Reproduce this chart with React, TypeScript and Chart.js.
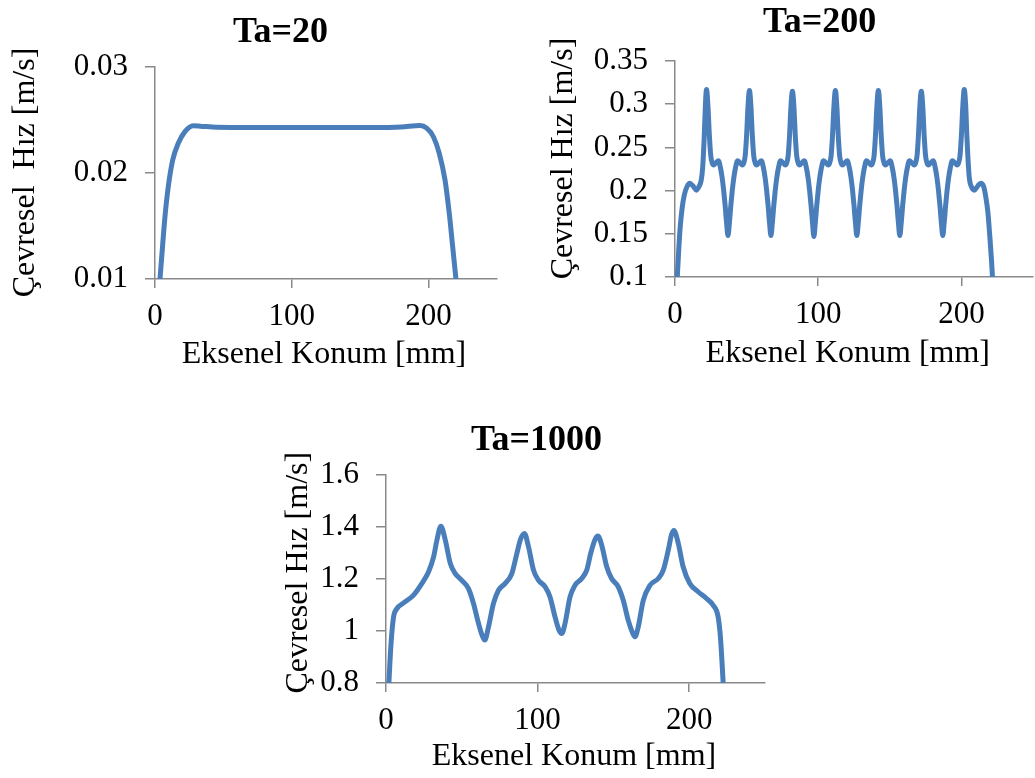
import { useEffect, useRef } from 'react';
import { Chart, registerables } from 'chart.js';

Chart.register(...registerables);

const FONT = '"Liberation Serif", "Times New Roman", Times, serif';
const LINE_COLOR = '#4a7ebb';
const AXIS_COLOR = '#898989';

// ---------- data ----------
const X_TICKS = [0, 100, 200];
const X_MIN = 0;
const X_MAX = 250;

const TA20_TITLE = 'Ta=20';
const TA20_Y_TICKS = [0.01, 0.02, 0.03];
const TA20_X = [3.4, 5.1, 7.3, 9.7, 12.9, 17, 21.9, 28, 33, 45, 70, 100, 130, 160, 180, 193.7, 198.6, 203.5, 207.8, 212, 215.1, 217.6, 220.3];
const TA20_Y = [0.0096, 0.0124, 0.0159, 0.0187, 0.0212, 0.0228, 0.0239, 0.02445, 0.02442, 0.02432, 0.0243, 0.0243, 0.0243, 0.0243, 0.02435, 0.02448, 0.02423, 0.02342, 0.02186, 0.01934, 0.0162, 0.01305, 0.0096];

const TA200_TITLE = 'Ta=200';
const TA200_Y_TICKS = [0.1, 0.15, 0.2, 0.25, 0.3, 0.35];
const TA200_X = [
  1.5, 2.5, 3.5, 5, 6.5, 8.5, 10.4, 12.5, 15, 17, 18.3, 19.3, 20.4, 21.2,
  22, 23, 24, 25, 26, 27, 28.5, 30.3, 31.8, 33, 34, 35, 36, 37, 38, 39, 40, 41, 42.2, 43.7, 45.5, 47, 48, 49, 50, 51,
  52, 53, 54, 55, 56, 57, 58.5, 60.3, 61.8, 63, 64, 65, 66, 67, 68, 69, 70, 71, 72.2, 73.7, 75.5, 77, 78, 79, 80, 81,
  82, 83, 84, 85, 86, 87, 88.5, 90.3, 91.8, 93, 94, 95, 96, 97, 98, 99, 100, 101, 102.2, 103.7, 105.5, 107, 108, 109, 110, 111,
  112, 113, 114, 115, 116, 117, 118.5, 120.3, 121.8, 123, 124, 125, 126, 127, 128, 129, 130, 131, 132.2, 133.7, 135.5, 137, 138, 139, 140, 141,
  142, 143, 144, 145, 146, 147, 148.5, 150.3, 151.8, 153, 154, 155, 156, 157, 158, 159, 160, 161, 162.2, 163.7, 165.5, 167, 168, 169, 170, 171,
  172, 173, 174, 175, 176, 177, 178.5, 180.3, 181.8, 183, 184, 185, 186, 187, 188, 189, 190, 191, 192.2, 193.7, 195.5, 197, 198, 199, 200, 201,
  202, 203, 203.8, 204.5, 205.5, 207, 209, 211.5, 213.5, 215.5, 217, 218.5, 219.8, 221, 221.8,
];
const TA200_Y = [
  0.097, 0.128, 0.155, 0.18, 0.195, 0.205, 0.2085, 0.2055, 0.2005, 0.2055, 0.212, 0.226, 0.2615, 0.298,
  0.317, 0.298, 0.264, 0.24, 0.232, 0.2296, 0.232, 0.2346, 0.226, 0.214, 0.2, 0.183, 0.163, 0.148, 0.163, 0.183, 0.2, 0.214, 0.226, 0.2346, 0.232, 0.2296, 0.232, 0.24, 0.264, 0.298,
  0.316, 0.298, 0.264, 0.24, 0.232, 0.2296, 0.232, 0.2346, 0.226, 0.214, 0.2, 0.183, 0.163, 0.148, 0.163, 0.183, 0.2, 0.214, 0.226, 0.2346, 0.232, 0.2296, 0.232, 0.24, 0.264, 0.298,
  0.315, 0.298, 0.264, 0.24, 0.232, 0.2296, 0.232, 0.2346, 0.226, 0.214, 0.2, 0.183, 0.163, 0.147, 0.163, 0.183, 0.2, 0.214, 0.226, 0.2346, 0.232, 0.2296, 0.232, 0.24, 0.264, 0.298,
  0.316, 0.298, 0.264, 0.24, 0.232, 0.2296, 0.232, 0.2346, 0.226, 0.214, 0.2, 0.183, 0.163, 0.148, 0.163, 0.183, 0.2, 0.214, 0.226, 0.2346, 0.232, 0.2296, 0.232, 0.24, 0.264, 0.298,
  0.316, 0.298, 0.264, 0.24, 0.232, 0.2296, 0.232, 0.2346, 0.226, 0.214, 0.2, 0.183, 0.163, 0.148, 0.163, 0.183, 0.2, 0.214, 0.226, 0.2346, 0.232, 0.2296, 0.232, 0.24, 0.264, 0.298,
  0.315, 0.298, 0.264, 0.24, 0.232, 0.2296, 0.232, 0.2346, 0.226, 0.214, 0.2, 0.183, 0.163, 0.148, 0.163, 0.183, 0.2, 0.214, 0.226, 0.2346, 0.232, 0.2296, 0.232, 0.24, 0.264, 0.298,
  0.317, 0.298, 0.264, 0.24, 0.215, 0.2045, 0.2005, 0.2055, 0.2085, 0.205, 0.193, 0.175, 0.148, 0.12, 0.097,
];

const TA1000_TITLE = 'Ta=1000';
const TA1000_Y_TICKS = [0.8, 1, 1.2, 1.4, 1.6];
const TA1000_X = [1.8, 3.3, 5, 7.2, 11.6, 18.2, 23.7, 28.1, 31.4, 33.6, 36.2, 39.1, 42.4, 45.7, 50, 54.4, 57.7, 61, 63.3, 65.2, 67.6, 70.9, 74.2, 78.6, 83, 86.3, 88.9, 91.3, 94, 97.3, 100.5, 105, 108.2, 111.5, 114, 115.9, 118.1, 121.4, 124.7, 129.1, 132.4, 135, 137.9, 139.8, 142.3, 145.6, 148.8, 153.2, 156.5, 159.8, 162.5, 164.2, 166.4, 169.7, 174.1, 179.6, 182.9, 186.2, 188.4, 189.9, 192.8, 196, 200.4, 205.9, 211.4, 215.8, 219.1, 220.6, 221.7, 222.5];
const TA1000_Y = [0.79, 0.95, 1.054, 1.086, 1.108, 1.138, 1.183, 1.228, 1.285, 1.35, 1.403, 1.35, 1.26, 1.221, 1.195, 1.163, 1.106, 1.03, 0.985, 0.965, 1.016, 1.106, 1.157, 1.183, 1.221, 1.298, 1.355, 1.375, 1.324, 1.234, 1.196, 1.17, 1.131, 1.054, 1.005, 0.99, 1.029, 1.131, 1.176, 1.202, 1.234, 1.298, 1.352, 1.365, 1.33, 1.247, 1.202, 1.17, 1.118, 1.041, 0.995, 0.978, 1.016, 1.118, 1.176, 1.202, 1.234, 1.311, 1.372, 1.387, 1.337, 1.247, 1.183, 1.151, 1.125, 1.099, 1.054, 0.977, 0.874, 0.79];

const X_TITLE = 'Eksenel Konum [mm]';
const Y_TITLE_1 = 'Çevresel  Hız [m/s]';
const Y_TITLE = 'Çevresel Hız [m/s]';

const TICK_SIZE = 31;
const AXIS_TITLE_SIZE = 32;
const CHART_TITLE_SIZE = 36;

type Txt = { text: string; x: number; y: number; size: number; bold?: boolean; rotate?: boolean };

type PanelProps = {
  left: number;
  top: number;
  width: number;
  height: number;
  padTop: number;
  padRight: number;
  yAxisW: number;
  xAxisH: number;
  xs: number[];
  ys: number[];
  yTicks: number[];
  texts: Txt[];
};

function Panel(p: PanelProps) {
  const ref = useRef<HTMLCanvasElement>(null);
  useEffect(() => {
    const texts = p.texts;
    const textPlugin = {
      id: 'panelTexts',
      afterDraw(chart: any) {
        const ctx = chart.ctx;
        for (const t of texts) {
          ctx.save();
          ctx.font = `${t.bold ? 'bold ' : ''}${t.size}px ${FONT}`;
          ctx.fillStyle = '#000';
          ctx.textAlign = 'center';
          ctx.textBaseline = 'alphabetic';
          ctx.translate(t.x, t.y);
          if (t.rotate) ctx.rotate(-Math.PI / 2);
          ctx.fillText(t.text, 0, 0);
          ctx.restore();
        }
      },
    };
    const yMin = p.yTicks[0];
    const yMax = p.yTicks[p.yTicks.length - 1];
    const chart = new Chart(ref.current as HTMLCanvasElement, {
      type: 'line',
      data: {
        datasets: [
          {
            data: p.xs.map((x, i) => ({ x, y: p.ys[i] })),
            borderColor: LINE_COLOR,
            borderWidth: 5,
            pointRadius: 0,
            fill: false,
            cubicInterpolationMode: 'monotone',
            clip: 0,
          } as any,
        ],
      },
      options: {
        animation: false,
        responsive: false,
        maintainAspectRatio: false,
        events: [],
        layout: { padding: { left: 0, right: p.padRight, top: p.padTop, bottom: 0 } },
        plugins: {
          legend: { display: false },
          tooltip: { enabled: false },
          title: { display: false },
        },
        scales: {
          x: {
            type: 'linear',
            min: X_MIN,
            max: X_MAX,
            afterBuildTicks: (s: any) => {
              s.ticks = X_TICKS.map((v) => ({ value: v }));
            },
            afterFit: (s: any) => {
              s.height = p.xAxisH;
            },
            ticks: {
              font: { family: FONT, size: TICK_SIZE },
              color: '#000',
              padding: 10,
              maxRotation: 0,
              autoSkip: false,
              callback: (v: any) => String(v),
            },
            grid: {
              display: true,
              drawOnChartArea: false,
              drawTicks: true,
              tickLength: 9,
              color: AXIS_COLOR,
              tickColor: AXIS_COLOR,
              lineWidth: 1.5,
              tickWidth: 1.5,
            },
            border: { display: true, color: AXIS_COLOR, width: 1.5 },
          },
          y: {
            type: 'linear',
            min: yMin,
            max: yMax,
            afterBuildTicks: (s: any) => {
              s.ticks = p.yTicks.map((v) => ({ value: v }));
            },
            afterFit: (s: any) => {
              s.width = p.yAxisW;
            },
            ticks: {
              font: { family: FONT, size: TICK_SIZE },
              color: '#000',
              padding: 17,
              autoSkip: false,
              callback: (v: any) => String(v),
            },
            grid: {
              display: true,
              drawOnChartArea: false,
              drawTicks: true,
              tickLength: 10,
              color: AXIS_COLOR,
              tickColor: AXIS_COLOR,
              lineWidth: 1.5,
              tickWidth: 1.5,
            },
            border: { display: true, color: AXIS_COLOR, width: 1.5 },
          },
        },
      } as any,
      plugins: [textPlugin as any],
    });
    return () => chart.destroy();
  }, []);
  return (
    <canvas
      ref={ref}
      width={p.width}
      height={p.height}
      style={{ position: 'absolute', left: p.left, top: p.top, width: p.width, height: p.height }}
    />
  );
}

export default function App() {
  return (
    <div
      style={{
        position: 'absolute',
        left: 0,
        top: 0,
        width: 1035,
        height: 778,
        overflow: 'hidden',
        background: '#fff',
      }}
    >
      <Panel
        left={0}
        top={0}
        width={507}
        height={380}
        padTop={67}
        padRight={10}
        yAxisW={155}
        xAxisH={101}
        xs={TA20_X}
        ys={TA20_Y}
        yTicks={TA20_Y_TICKS}
        texts={[
          { text: TA20_TITLE, x: 280.5, y: 41.7, size: CHART_TITLE_SIZE, bold: true },
          { text: Y_TITLE_1, x: 34, y: 172.5, size: AXIS_TITLE_SIZE, rotate: true },
          { text: X_TITLE, x: 324, y: 363, size: AXIS_TITLE_SIZE },
        ]}
      />
      <Panel
        left={520}
        top={0}
        width={515}
        height={378}
        padTop={61}
        padRight={2}
        yAxisW={155}
        xAxisH={101}
        xs={TA200_X}
        ys={TA200_Y}
        yTicks={TA200_Y_TICKS}
        texts={[
          { text: TA200_TITLE, x: 299.7, y: 31.7, size: CHART_TITLE_SIZE, bold: true },
          { text: Y_TITLE, x: 52, y: 158.5, size: AXIS_TITLE_SIZE, rotate: true },
          { text: X_TITLE, x: 327.8, y: 361.7, size: AXIS_TITLE_SIZE },
        ]}
      />
      <Panel
        left={231}
        top={400}
        width={544}
        height={378}
        padTop={75}
        padRight={10}
        yAxisW={155}
        xAxisH={95}
        xs={TA1000_X}
        ys={TA1000_Y}
        yTicks={TA1000_Y_TICKS}
        texts={[
          { text: TA1000_TITLE, x: 305.5, y: 50, size: CHART_TITLE_SIZE, bold: true },
          { text: Y_TITLE, x: 76, y: 172.7, size: AXIS_TITLE_SIZE, rotate: true },
          { text: X_TITLE, x: 343, y: 365, size: AXIS_TITLE_SIZE },
        ]}
      />
    </div>
  );
}
